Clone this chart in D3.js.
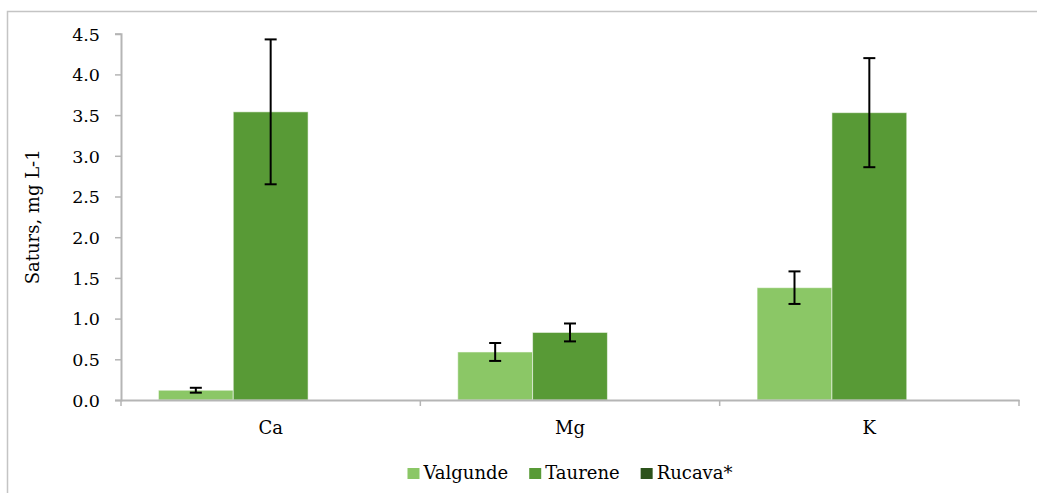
<!DOCTYPE html>
<html>
<head>
<meta charset="utf-8">
<script src="https://cdn.jsdelivr.net/npm/d3@7"></script>
<style>
  html, body { margin: 0; padding: 0; background: #fff; }
  svg { display: block; }
  svg text { font-family: "DejaVu Serif", serif; fill: #000; }
</style>
</head>
<body>
<svg id="chart" width="1037" height="493"></svg>
<script>
const categories = ["Ca", "Mg", "K"];
const seriesNames = ["Valgunde", "Taurene", "Rucava*"];
const valgunde = [0.12, 0.59, 1.38];
const taurene = [3.54, 0.83, 3.53];
const rucava = [0, 0, 0];
const valgundeErr = [0.03, 0.11, 0.20];
const taureneErr = [0.89, 0.11, 0.67];
const rucavaErr = [0, 0, 0];
const yTicks = [0, 0.5, 1.0, 1.5, 2.0, 2.5, 3.0, 3.5, 4.0, 4.5];
const colors = ["#8bc766", "#589a36", "#2c521b"];

(function () {
const values = [valgunde, taurene, rucava];
const errors = [valgundeErr, taureneErr, rucavaErr];
const FONT = "'DejaVu Serif', serif";

const svg = d3.select("#chart");
const pLeft = 121, pRight = 1019, pTop = 33.7, pBottom = 400;

svg.append("rect")
  .attr("x", 7.5).attr("y", 11.5)
  .attr("width", 1040).attr("height", 500)
  .attr("fill", "none").attr("stroke", "#c4c4c4").attr("stroke-width", 1.5);

const x = d3.scaleBand().domain(categories).range([pLeft, pRight]).paddingInner(0).paddingOuter(0);
const x1 = d3.scaleBand().domain(seriesNames).range([0, x.bandwidth()]).paddingInner(0).paddingOuter(0.5);
const y = d3.scaleLinear().domain([0, 4.5]).range([pBottom, pTop]);

seriesNames.forEach((s, si) => {
  svg.append("g").selectAll("rect")
    .data(categories.map((c, ci) => ({c, v: values[si][ci]})))
    .join("rect")
    .attr("x", d => x(d.c) + x1(s))
    .attr("y", d => y(d.v))
    .attr("width", x1.bandwidth())
    .attr("height", d => y(0) - y(d.v))
    .attr("fill", colors[si])
    .attr("stroke", d => d.v > 0 ? "rgba(255,255,255,0.55)" : "none")
    .attr("stroke-width", 1);
});

const yAxis = d3.axisLeft(y).tickValues(yTicks).tickFormat(d3.format(".1f")).tickSize(6).tickPadding(15);
const gy = svg.append("g").attr("transform", `translate(${pLeft},0)`).call(yAxis);
gy.attr("font-family", FONT);
gy.select(".domain").attr("stroke", "#b5b5b5").attr("stroke-width", 2);
gy.selectAll(".tick line").attr("stroke", "#b5b5b5").attr("stroke-width", 1.5);
gy.selectAll(".tick text").attr("font-size", 17.5).attr("fill", "#000").attr("dy", "0.36em");

const xAxis = d3.axisBottom(x).tickSize(0).tickPadding(21);
const gx = svg.append("g").attr("transform", `translate(0,${pBottom})`).call(xAxis);
gx.attr("font-family", FONT);
gx.select(".domain").attr("stroke", "#b5b5b5").attr("stroke-width", 2);
gx.selectAll(".tick text").attr("font-size", 18).attr("fill", "#000");
const sepPositions = categories.map(c => x(c)).concat([x(categories[categories.length - 1]) + x.bandwidth()]);
gx.append("g").selectAll("line").data(sepPositions).join("line")
  .attr("x1", d => d).attr("x2", d => d).attr("y1", 0).attr("y2", 6)
  .attr("stroke", "#b5b5b5").attr("stroke-width", 1.5);

seriesNames.forEach((s, si) => {
  const g = svg.append("g");
  categories.forEach((c, ci) => {
    const v = values[si][ci], e = errors[si][ci];
    if (!(v > 0)) return;
    const cx = x(c) + x1(s) + x1.bandwidth() / 2;
    g.append("line").attr("x1", cx).attr("x2", cx).attr("y1", y(v + e)).attr("y2", y(v - e))
      .attr("stroke", "#000").attr("stroke-width", 2);
    [v + e, v - e].forEach(t => {
      g.append("line").attr("x1", cx - 6).attr("x2", cx + 6).attr("y1", y(t)).attr("y2", y(t))
        .attr("stroke", "#000").attr("stroke-width", 2);
    });
  });
});

svg.append("text")
  .attr("transform", `translate(39,${(pTop + pBottom) / 2}) rotate(-90)`)
  .attr("text-anchor", "middle")
  .attr("font-size", 18)
  .text("Saturs, mg L-1");

const legend = svg.append("g");
let cx = 0;
seriesNames.forEach((s, i) => {
  const g = legend.append("g");
  g.append("rect").attr("x", cx).attr("y", -11).attr("width", 12).attr("height", 11).attr("fill", colors[i]);
  const t = g.append("text").attr("x", cx + 16).attr("y", 0).attr("font-size", 18).text(s);
  const w = t.node().getComputedTextLength();
  cx += 16 + w + 21;
});
const totalW = cx - 21;
legend.attr("transform", `translate(${(pLeft + pRight) / 2 - totalW / 2},479)`);
})();
</script>
</body>
</html>
